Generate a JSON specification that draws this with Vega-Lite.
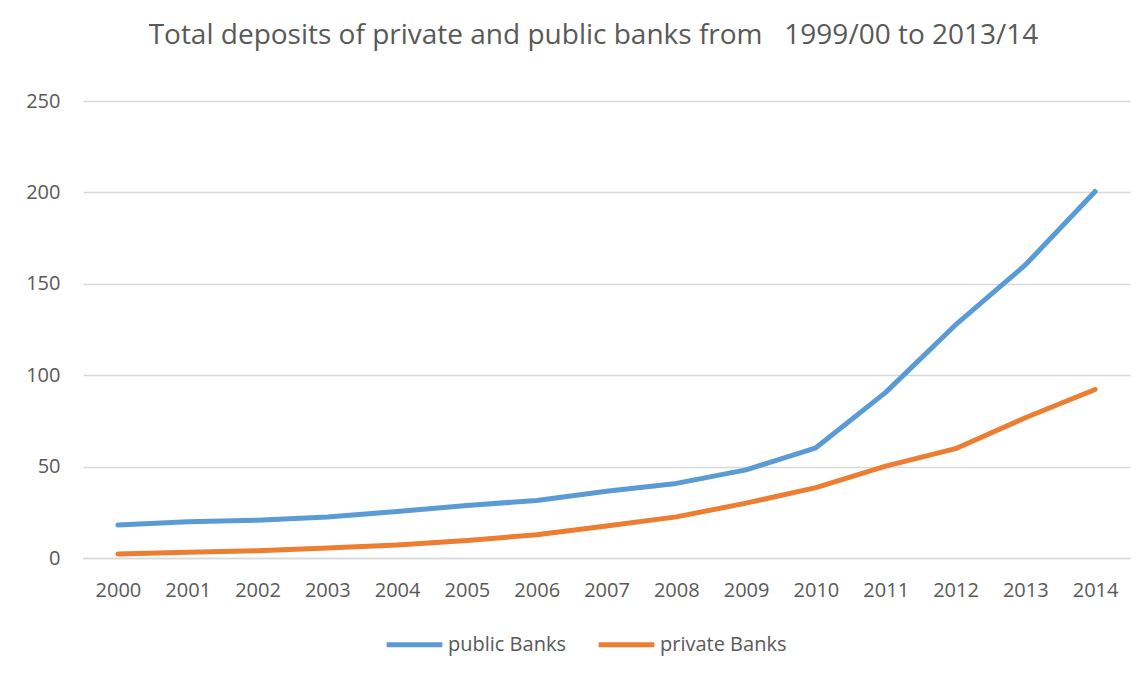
{
  "$schema": "https://vega.github.io/schema/vega-lite/v6.json",
  "width": 1047,
  "height": 457,
  "autosize": {"type": "none"},
  "padding": {"left": 83, "top": 101, "right": 15, "bottom": 119},
  "background": "white",
  "title": {
    "text": "Total deposits of private and public banks from \u00a0\u00a01999/00 to 2013/14",
    "font": "Open Sans",
    "fontSize": 28,
    "fontWeight": "normal",
    "color": "#595959",
    "anchor": "middle",
    "offset": 41,
    "dx": -13
  },
  "data": {
    "values": [
      {"year": "2000", "series": "public Banks", "value": 18.0},
      {"year": "2001", "series": "public Banks", "value": 19.8},
      {"year": "2002", "series": "public Banks", "value": 20.7},
      {"year": "2003", "series": "public Banks", "value": 22.4},
      {"year": "2004", "series": "public Banks", "value": 25.5},
      {"year": "2005", "series": "public Banks", "value": 28.7},
      {"year": "2006", "series": "public Banks", "value": 31.5},
      {"year": "2007", "series": "public Banks", "value": 36.5},
      {"year": "2008", "series": "public Banks", "value": 40.8},
      {"year": "2009", "series": "public Banks", "value": 48.2},
      {"year": "2010", "series": "public Banks", "value": 60.3},
      {"year": "2011", "series": "public Banks", "value": 90.6},
      {"year": "2012", "series": "public Banks", "value": 127.5},
      {"year": "2013", "series": "public Banks", "value": 160.3},
      {"year": "2014", "series": "public Banks", "value": 200.5},
      {"year": "2000", "series": "private Banks", "value": 2.2},
      {"year": "2001", "series": "private Banks", "value": 3.1},
      {"year": "2002", "series": "private Banks", "value": 4.0},
      {"year": "2003", "series": "private Banks", "value": 5.5},
      {"year": "2004", "series": "private Banks", "value": 7.1},
      {"year": "2005", "series": "private Banks", "value": 9.6},
      {"year": "2006", "series": "private Banks", "value": 12.7},
      {"year": "2007", "series": "private Banks", "value": 17.5},
      {"year": "2008", "series": "private Banks", "value": 22.5},
      {"year": "2009", "series": "private Banks", "value": 30.0},
      {"year": "2010", "series": "private Banks", "value": 38.5},
      {"year": "2011", "series": "private Banks", "value": 50.3},
      {"year": "2012", "series": "private Banks", "value": 59.8},
      {"year": "2013", "series": "private Banks", "value": 76.7},
      {"year": "2014", "series": "private Banks", "value": 92.2}
    ]
  },
  "mark": {"type": "line", "strokeWidth": 5, "strokeCap": "round", "strokeJoin": "round"},
  "encoding": {
    "x": {
      "field": "year",
      "type": "ordinal",
      "scale": {"type": "point", "padding": 0.5},
      "axis": {
        "title": null,
        "labelAngle": 0,
        "ticks": false,
        "grid": false,
        "domain": true,
        "domainColor": "#d9d9d9",
        "domainWidth": 1.5,
        "labelFont": "Open Sans",
        "labelFontSize": 20,
        "labelColor": "#595959",
        "labelPadding": 22
      }
    },
    "y": {
      "field": "value",
      "type": "quantitative",
      "scale": {"domain": [0, 250], "nice": false},
      "axis": {
        "title": null,
        "values": [0, 50, 100, 150, 200, 250],
        "ticks": false,
        "domain": false,
        "gridColor": "#d9d9d9",
        "gridWidth": 1.5,
        "labelFont": "Open Sans",
        "labelFontSize": 20,
        "labelColor": "#595959",
        "labelPadding": 23
      }
    },
    "color": {
      "field": "series",
      "type": "nominal",
      "scale": {"domain": ["public Banks", "private Banks"], "range": ["#5B9BD5", "#ED7D31"]},
      "legend": {
        "title": null,
        "orient": "none",
        "direction": "horizontal",
        "legendX": 301,
        "legendY": 513,
        "symbolType": "stroke",
        "symbolStrokeWidth": 5,
        "symbolSize": 3100,
        "labelFont": "Open Sans",
        "labelFontSize": 20,
        "labelColor": "#595959",
        "labelOffset": 3,
        "columnPadding": 22
      }
    }
  },
  "config": {"view": {"stroke": null}}
}
